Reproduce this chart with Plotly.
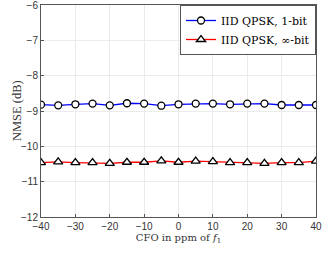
import plotly.graph_objects as go

cfo = [-40, -35, -30, -25, -20, -15, -10, -5, 0, 5, 10, 15, 20, 25, 30, 35, 40]
nmse_1bit = [-8.82, -8.84, -8.81, -8.79, -8.84, -8.78, -8.79, -8.85, -8.81, -8.79,
             -8.79, -8.81, -8.79, -8.79, -8.83, -8.83, -8.83]
nmse_inf = [-10.46, -10.44, -10.46, -10.46, -10.48, -10.45, -10.45, -10.41, -10.45, -10.42,
            -10.43, -10.46, -10.46, -10.48, -10.46, -10.46, -10.42]
x_ticks = [-40, -30, -20, -10, 0, 10, 20, 30, 40]
y_ticks = [-12, -11, -10, -9, -8, -7, -6]

fig = go.Figure()
fig.add_trace(go.Scatter(
    x=cfo, y=nmse_1bit, mode="lines+markers", name="IID QPSK, 1-bit",
    line=dict(color="#0000ff", width=1.3),
    marker=dict(symbol="circle", size=7, color="white", line=dict(color="black", width=1.3)),
))
fig.add_trace(go.Scatter(
    x=cfo, y=nmse_inf, mode="lines+markers", name="IID QPSK, ∞-bit",
    line=dict(color="#ff0000", width=1.3),
    marker=dict(symbol="triangle-up", size=8, color="white", line=dict(color="black", width=1.3)),
))

axis_common = dict(
    showline=True, linecolor="#555555", linewidth=1, mirror=True,
    showgrid=True, gridcolor="#ebebeb", gridwidth=1,
    ticks="inside", ticklen=3, tickcolor="#555555",
    tickfont=dict(family="Liberation Sans, Arial", size=10, color="#333333"),
    zeroline=False, ticklabeloverflow="allow", automargin=False,
)
fig.update_xaxes(range=[-40, 40], tickvals=x_ticks, **axis_common,
                 title=dict(text="CFO in ppm of <i>f</i><sub>1</sub>", standoff=2,
                            font=dict(family="DejaVu Serif", size=10, color="#333333")))
fig.update_yaxes(range=[-12, -6], tickvals=y_ticks, **axis_common)

fig.add_annotation(
    text="NMSE (dB)", textangle=-90, xref="paper", yref="paper",
    x=-0.087, y=0.5, xanchor="center", yanchor="middle", showarrow=False,
    font=dict(family="Liberation Serif, DejaVu Serif", size=12.5, color="#333333"),
)

fig.update_layout(
    width=329, height=257,
    margin=dict(l=41, r=13, t=5, b=40),
    plot_bgcolor="white", paper_bgcolor="white",
    showlegend=True,
    legend=dict(x=1, y=1, xanchor="right", yanchor="top",
                bgcolor="white", bordercolor="#555555", borderwidth=1,
                font=dict(family="DejaVu Serif", size=11, color="black"),
                tracegroupgap=0, itemwidth=30),
)
fig.write_html("out.html", config={"displayModeBar": False},
               post_script="document.body.style.margin='0';")
